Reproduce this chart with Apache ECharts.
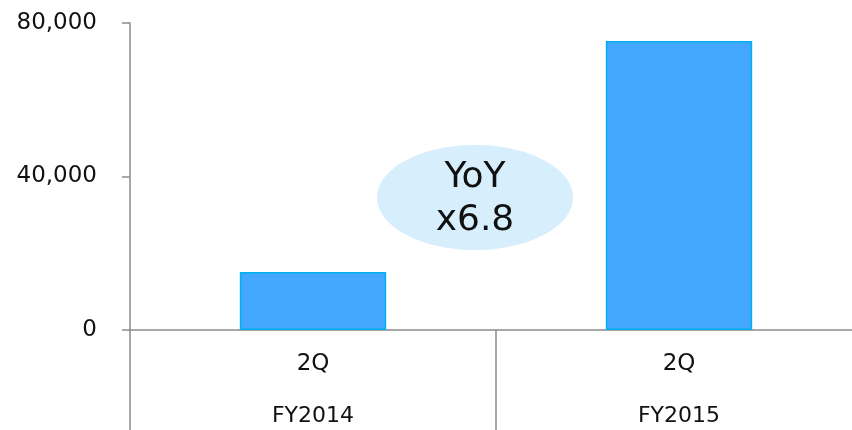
<!DOCTYPE html>
<html lang="en">
<head>
	<meta charset="UTF-8">
	<title>YoY</title>
	<script src="https://cdn.jsdelivr.net/npm/echarts@6/dist/echarts.min.js"></script>
	<style>
		html, body { margin: 0; padding: 0; background: #fff; }
	</style>
</head>
<body>
	<div id="chart" style="width:852px; height:430px;"></div>
	<script>
	// data
	var quarters = ['2Q', '2Q'];
	var fiscalYears = ['FY2014', 'FY2015'];
	var values = [15100, 75300];
	var yoyText = 'YoY\nx6.8';

	var font = 'DejaVu Sans';
	var axisGray = '#8c8c8c';

	var myChart = echarts.init(document.getElementById('chart'));
	var option = {
		animation: false,
		grid: {
			left: 130,
			right: -10,
			top: 23,
			bottom: 100,
			outerBoundsMode: 'none'
		},
		xAxis: [
		{
			type: 'category',
			data: quarters,
			boundaryGap: true,
			axisLine: { lineStyle: { color: axisGray, width: 1.5 } },
			axisTick: { show: true, length: 100, lineStyle: { color: axisGray, width: 1.5 } },
			axisLabel: { color: '#111', fontFamily: font, fontSize: 23, margin: 23 }
		},
		{
			type: 'category',
			data: fiscalYears,
			position: 'bottom',
			boundaryGap: true,
			axisLine: { show: false },
			axisTick: { show: false },
			axisLabel: { color: '#111', fontFamily: font, fontSize: 22, margin: 75 }
		}
		],
		yAxis: {
			type: 'value',
			min: 0,
			max: 80000,
			interval: 40000,
			splitLine: { show: false },
			axisLine: { show: true, lineStyle: { color: axisGray, width: 1.5 } },
			axisTick: { show: true, length: 8, lineStyle: { color: axisGray, width: 1.5 } },
			axisLabel: {
				color: '#111',
				fontFamily: font,
				fontSize: 23,
				margin: 33,
				formatter: function (v) { return v.toLocaleString('en-US'); }
			}
		},
		series: [
		{
			type: 'bar',
			data: values,
			barWidth: '40%',
			itemStyle: { color: '#44a7fe', borderColor: '#00b0f0', borderWidth: 1.5 }
		}
		],
		graphic: [
		{
			type: 'ellipse',
			shape: { cx: 475, cy: 197.5, rx: 98, ry: 52.5 },
			style: { fill: '#d7eefc' },
			z: 10
		},
		{
			type: 'text',
			x: 475,
			y: 199,
			style: {
				text: yoyText,
				font: '36px "DejaVu Sans"',
				fill: '#111',
				align: 'center',
				verticalAlign: 'middle',
				lineHeight: 43
			},
			z: 11
		}
		]
	};
	myChart.setOption(option);
	</script>
</body>
</html>
